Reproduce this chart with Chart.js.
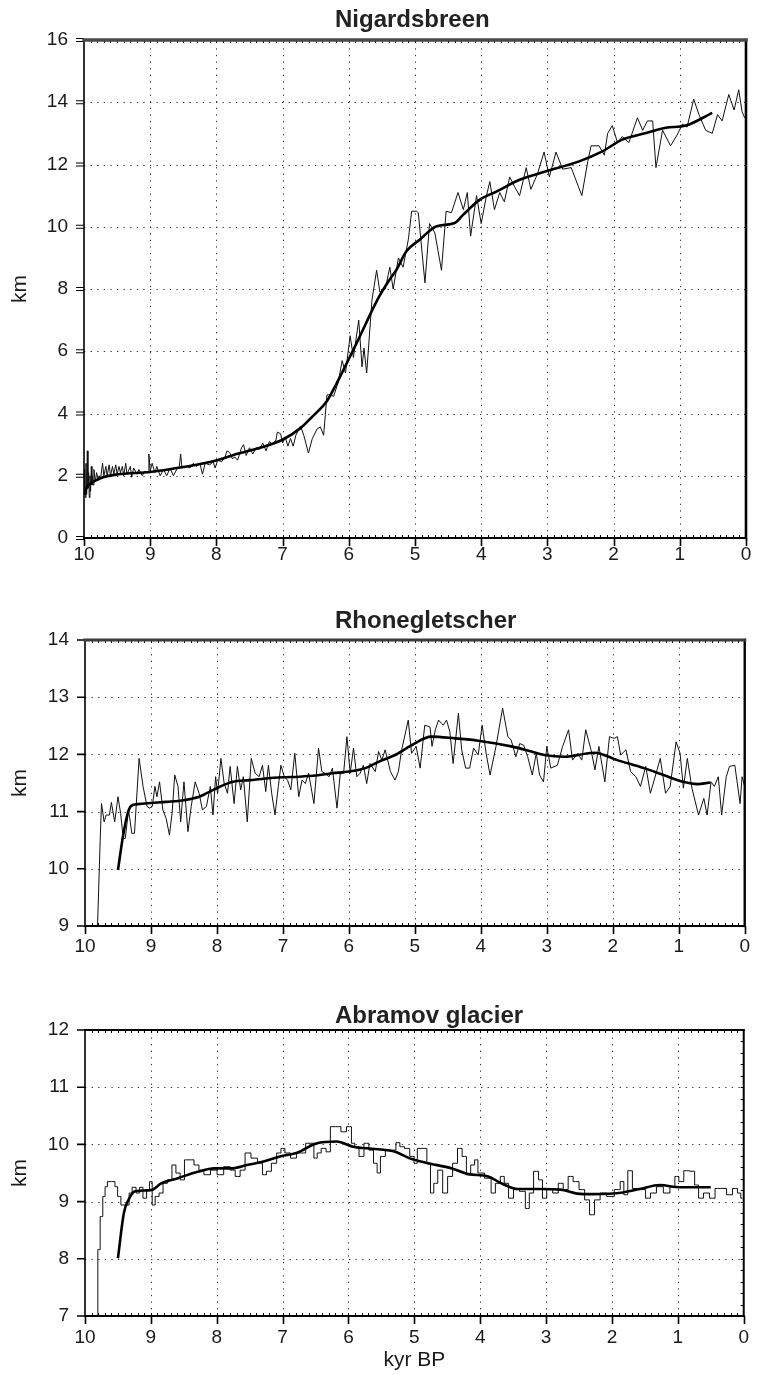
<!DOCTYPE html>
<html>
<head>
<meta charset="utf-8">
<script src="https://cdn.jsdelivr.net/npm/chart.js@4.4.1/dist/chart.umd.min.js"></script>
<style>
  html, body { margin: 0; padding: 0; background: #fff; }
  body { width: 759px; height: 1375px; position: relative; overflow: hidden; }
  canvas { position: absolute; left: 0; }
</style>
</head>
<body>
<canvas id="nigCanvas" width="759" height="590" style="top:0px"></canvas>
<canvas id="rhoCanvas" width="759" height="380" style="top:600px"></canvas>
<canvas id="abrCanvas" width="759" height="385" style="top:990px"></canvas>
<script>
// --- DATA (age in kyr BP, length in km) ---
const ageTicks = [10, 9, 8, 7, 6, 5, 4, 3, 2, 1, 0];
const nigKmTicks = [0, 2, 4, 6, 8, 10, 12, 14, 16];
const rhoKmTicks = [9, 10, 11, 12, 13, 14];
const abrKmTicks = [7, 8, 9, 10, 11, 12];

const nigardsRaw = [
  [10.0,1.5],[9.99,2.2],[9.98,1.3],[9.97,2.4],[9.96,1.4],[9.95,2.8],[9.94,1.6],[9.93,2.1],[9.92,1.3],[9.91,2.0],
  [9.90,1.5],[9.89,2.3],[9.88,1.7],[9.87,2.0],[9.86,1.7],[9.85,2.2],[9.83,1.8],[9.81,2.1],[9.79,1.9],[9.77,2.0],
  [9.75,1.9],[9.72,2.4],[9.70,2.0],[9.67,2.3],[9.65,2.0],[9.62,2.35],[9.60,2.0],[9.57,2.3],[9.55,2.05],[9.52,2.35],
  [9.50,2.05],[9.47,2.3],[9.45,2.1],[9.42,2.3],[9.40,2.0],[9.37,2.4],[9.35,2.05],[9.30,2.3],[9.28,1.95],[9.25,2.25],
  [9.20,2.05],[9.17,2.2],[9.12,2.0],[9.08,2.15],[9.03,2.1],[9.02,2.7],[9.00,2.15],[8.97,2.4],[8.93,2.1],[8.90,2.3],
  [8.85,2.0],[8.80,2.2],[8.75,2.0],[8.70,2.25],[8.65,2.0],[8.60,2.2],[8.56,2.3],[8.54,2.7],[8.52,2.25],[8.45,2.3],
  [8.40,2.25],[8.35,2.4],[8.30,2.3],[8.25,2.4],[8.21,2.05],[8.17,2.4],[8.10,2.35],[8.05,2.45],[8.02,2.25],[7.98,2.5],
  [7.92,2.45],[7.87,2.6],[7.84,2.8],[7.80,2.75],[7.76,2.55],[7.72,2.6],[7.68,2.5],[7.62,2.9],[7.59,3.0],[7.55,2.65],
  [7.50,2.9],[7.45,2.7],[7.40,2.9],[7.35,2.85],[7.30,3.05],[7.25,2.8],[7.20,3.1],[7.15,3.0],[7.10,3.15],[7.08,3.4],
  [7.03,3.35],[7.00,3.05],[6.96,3.25],[6.92,2.95],[6.88,3.2],[6.84,2.95],[6.80,3.3],[6.73,3.6],[6.68,3.3],[6.61,2.73],
  [6.55,3.2],[6.48,3.5],[6.43,3.57],[6.38,3.3],[6.33,4.6],[6.28,4.6],[6.23,4.55],[6.16,5.0],[6.10,5.7],[6.05,5.3],
  [5.98,6.5],[5.93,5.8],[5.85,7.0],[5.80,5.5],[5.77,6.1],[5.73,5.3],[5.65,7.65],[5.58,8.6],[5.53,7.9],[5.45,8.0],
  [5.38,8.7],[5.33,8.0],[5.25,9.0],[5.18,8.7],[5.10,9.6],[5.05,10.5],[4.98,10.5],[4.95,10.45],[4.85,8.2],[4.78,10.1],
  [4.70,9.8],[4.60,8.6],[4.53,10.5],[4.45,10.45],[4.35,11.1],[4.27,10.55],[4.21,11.1],[4.16,9.7],[4.07,11.0],[4.00,10.1],
  [3.92,11.0],[3.87,11.45],[3.80,10.55],[3.72,11.1],[3.65,10.8],[3.57,11.6],[3.50,11.3],[3.42,11.0],[3.32,11.9],[3.25,11.2],
  [3.15,11.7],[3.05,12.4],[2.97,11.6],[2.87,12.4],[2.77,11.85],[2.64,11.9],[2.48,11.0],[2.39,12.1],[2.34,12.6],[2.22,12.6],
  [2.14,12.3],[2.09,13.0],[2.02,13.25],[1.94,12.7],[1.87,12.9],[1.77,12.7],[1.64,13.5],[1.56,13.1],[1.49,13.4],[1.41,13.4],
  [1.36,11.9],[1.26,13.1],[1.14,12.6],[1.04,12.95],[0.96,13.3],[0.89,13.2],[0.79,14.1],[0.71,13.6],[0.61,13.1],[0.51,13.0],
  [0.43,13.6],[0.36,13.4],[0.26,14.25],[0.18,13.75],[0.11,14.4],[0.06,13.7],[0.02,13.5]
];
const nigardsSmooth = [
  [10.0,1.4],[9.95,1.65],[9.9,1.75],[9.74,1.93],[9.5,2.04],[9.0,2.12],[8.5,2.28],[7.99,2.5],[7.74,2.67],[7.23,2.97],
  [6.98,3.18],[6.73,3.53],[6.55,3.9],[6.33,4.4],[6.2,4.9],[6.03,5.62],[5.85,6.4],[5.68,7.17],[5.53,7.8],[5.4,8.25],
  [5.28,8.62],[5.13,9.21],[4.93,9.58],[4.68,10.01],[4.4,10.12],[4.27,10.39],[4.02,10.87],[3.77,11.13],[3.42,11.51],[3.02,11.78],
  [2.52,12.1],[2.17,12.42],[1.87,12.8],[1.51,13.01],[1.21,13.18],[0.91,13.25],[0.51,13.66]
];

const rhoneRaw = [
  [9.81,9.0],[9.77,10.5],[9.75,11.14],[9.71,10.82],[9.68,10.94],[9.63,10.94],[9.6,11.16],[9.55,10.82],[9.5,11.26],[9.46,10.97],
  [9.42,10.53],[9.39,10.53],[9.34,11.03],[9.29,10.62],[9.25,10.62],[9.18,11.93],[9.12,11.44],[9.06,11.09],[9.02,11.06],[8.98,11.09],
  [8.94,11.44],[8.91,11.26],[8.87,11.52],[8.82,11.03],[8.77,10.88],[8.72,10.59],[8.68,10.97],[8.64,11.64],[8.59,11.44],[8.55,10.82],
  [8.5,11.52],[8.44,10.65],[8.39,11.09],[8.33,11.52],[8.27,11.32],[8.22,11.03],[8.16,11.09],[8.1,11.44],[8.06,10.94],[8.02,11.61],
  [7.99,11.32],[7.94,11.93],[7.89,11.49],[7.84,11.32],[7.8,11.79],[7.74,11.14],[7.69,11.79],[7.64,11.38],[7.6,11.61],[7.54,10.82],
  [7.48,11.93],[7.42,11.67],[7.36,11.61],[7.31,11.81],[7.26,11.35],[7.22,11.81],[7.17,11.32],[7.12,10.94],[7.07,11.44],[7.03,11.81],
  [6.98,11.61],[6.93,11.55],[6.88,11.38],[6.82,12.02],[6.76,11.26],[6.71,11.55],[6.66,11.49],[6.61,11.67],[6.53,11.14],[6.46,12.11],
  [6.41,11.7],[6.36,11.67],[6.3,11.61],[6.25,11.76],[6.18,11.06],[6.13,11.67],[6.08,11.67],[6.03,12.31],[5.98,11.67],[5.93,12.11],
  [5.88,11.61],[5.83,11.67],[5.78,11.81],[5.73,11.49],[5.68,11.84],[5.6,11.7],[5.55,12.05],[5.5,11.9],[5.45,12.08],[5.37,11.7],
  [5.3,11.55],[5.25,11.7],[5.2,12.08],[5.1,12.6],[5.05,12.02],[4.98,12.14],[4.92,11.76],[4.85,12.51],[4.77,12.48],[4.74,12.14],
  [4.69,12.43],[4.64,12.6],[4.57,12.51],[4.52,12.6],[4.47,12.4],[4.42,11.84],[4.34,12.72],[4.29,12.08],[4.23,11.76],[4.17,11.76],
  [4.11,12.11],[4.04,11.99],[3.98,12.51],[3.92,12.02],[3.86,11.64],[3.77,12.14],[3.67,12.81],[3.59,12.31],[3.54,12.25],[3.47,11.96],
  [3.41,12.19],[3.35,12.16],[3.29,11.96],[3.22,11.64],[3.16,12.02],[3.11,11.64],[3.05,11.52],[3.0,12.14],[2.94,11.76],[2.84,11.81],
  [2.76,12.14],[2.67,12.43],[2.61,11.9],[2.53,12.02],[2.47,11.9],[2.41,12.43],[2.33,12.08],[2.27,11.73],[2.21,12.14],[2.12,11.52],
  [2.05,12.31],[1.98,12.28],[1.93,12.31],[1.88,11.99],[1.8,12.08],[1.73,11.7],[1.65,11.61],[1.58,11.44],[1.5,11.79],[1.43,11.32],
  [1.35,11.64],[1.28,11.93],[1.2,11.32],[1.13,11.44],[1.04,12.22],[0.98,12.02],[0.93,11.41],[0.87,11.93],[0.8,11.41],[0.7,10.94],
  [0.62,11.23],[0.57,10.94],[0.51,11.52],[0.46,11.44],[0.4,11.61],[0.35,10.94],[0.28,11.61],[0.23,11.79],[0.15,11.81],[0.07,11.14],
  [0.04,11.61],[0.0,11.44]
];
const rhoneSmooth = [
  [9.5,9.98],[9.42,10.6],[9.35,10.98],[9.3,11.1],[9.2,11.13],[9.0,11.15],[8.77,11.17],[8.5,11.2],[8.27,11.26],[8.02,11.4],
  [7.76,11.52],[7.5,11.55],[7.26,11.58],[7.0,11.6],[6.75,11.61],[6.5,11.63],[6.25,11.67],[6.0,11.7],[5.75,11.76],[5.55,11.87],
  [5.3,11.99],[5.05,12.16],[4.75,12.31],[4.39,12.28],[4.04,12.24],[3.54,12.14],[3.29,12.07],[3.04,11.99],[2.73,11.96],[2.28,12.03],
  [1.93,11.9],[1.53,11.76],[1.23,11.64],[0.93,11.52],[0.72,11.48],[0.52,11.51]
];

const abramovRaw = [
  [9.82,7.0],[9.79,8.16],[9.75,8.74],[9.71,9.09],[9.68,9.26],[9.64,9.35],[9.56,9.35],[9.53,9.26],[9.48,9.09],[9.43,8.94],
  [9.35,8.94],[9.31,9.15],[9.26,9.25],[9.19,9.15],[9.15,9.25],[9.09,9.06],[9.04,9.21],[9.0,9.35],[8.96,8.94],[8.91,9.09],
  [8.84,9.15],[8.79,9.32],[8.71,9.38],[8.65,9.64],[8.59,9.5],[8.52,9.38],[8.46,9.73],[8.38,9.73],[8.31,9.64],[8.23,9.55],
  [8.16,9.47],[8.03,9.55],[7.96,9.47],[7.83,9.61],[7.76,9.55],[7.68,9.44],[7.61,9.55],[7.53,9.85],[7.43,9.76],[7.33,9.67],
  [7.28,9.47],[7.21,9.53],[7.13,9.67],[7.05,9.85],[7.0,9.93],[6.93,9.85],[6.83,9.76],[6.75,9.85],[6.68,9.85],[6.62,10.02],
  [6.55,10.02],[6.5,9.76],[6.45,9.85],[6.38,9.93],[6.3,9.87],[6.25,10.31],[6.15,10.31],[6.08,10.22],[5.98,10.31],[5.93,10.02],
  [5.88,9.96],[5.8,9.79],[5.73,10.02],[5.65,9.9],[5.59,9.67],[5.54,9.5],[5.49,9.79],[5.39,9.9],[5.31,9.9],[5.25,10.03],
  [5.19,9.96],[5.11,9.93],[5.03,9.79],[4.98,9.67],[4.93,9.93],[4.84,9.93],[4.78,9.67],[4.73,9.15],[4.68,9.32],[4.61,9.55],
  [4.53,9.15],[4.46,9.44],[4.38,9.67],[4.31,9.93],[4.24,9.79],[4.18,9.47],[4.11,9.64],[4.06,9.73],[4.01,9.5],[3.86,9.41],
  [3.81,9.15],[3.73,9.32],[3.66,9.44],[3.61,9.32],[3.53,9.06],[3.46,9.21],[3.35,9.18],[3.28,8.88],[3.23,9.15],[3.15,9.53],
  [3.08,9.38],[3.03,9.06],[2.95,9.21],[2.85,9.15],[2.78,9.32],[2.7,9.21],[2.63,9.44],[2.55,9.35],[2.45,9.21],[2.38,9.03],
  [2.3,8.77],[2.23,9.03],[2.13,9.15],[2.03,9.09],[1.9,9.21],[1.85,9.35],[1.79,9.12],[1.73,9.54],[1.65,9.23],[1.53,9.21],
  [1.45,9.06],[1.38,9.15],[1.27,9.26],[1.17,9.15],[1.07,9.26],[1.02,9.44],[0.95,9.35],[0.87,9.54],[0.77,9.53],[0.72,9.29],
  [0.65,9.06],[0.57,9.15],[0.47,9.06],[0.4,9.23],[0.3,9.23],[0.22,9.12],[0.12,9.23],[0.07,9.15],[0.02,9.06]
];
const abramovSmooth = [
  [9.5,8.01],[9.41,8.8],[9.34,9.03],[9.24,9.18],[9.0,9.2],[8.84,9.32],[8.59,9.41],[8.29,9.52],[8.04,9.58],[7.79,9.58],
  [7.54,9.64],[7.29,9.7],[7.04,9.79],[6.79,9.85],[6.48,10.02],[6.18,10.05],[5.93,9.96],[5.59,9.92],[5.29,9.87],[5.08,9.76],
  [4.83,9.68],[4.43,9.58],[4.18,9.48],[3.88,9.44],[3.68,9.32],[3.43,9.22],[3.08,9.22],[2.78,9.21],[2.53,9.14],[2.28,9.13],
  [1.83,9.16],[1.58,9.22],[1.27,9.29],[0.97,9.25],[0.5,9.25]
];

const FONT = '"Liberation Sans", Arial, Helvetica, sans-serif';
const INK = '#1a1a1a';

// grid, frame, ticks and panel title
const framePlugin = {
  id: 'frame',
  beforeDatasetsDraw(chart, args, o) {
    const { ctx, chartArea: a, scales: { x, y } } = chart;
    ctx.save();
    ctx.strokeStyle = '#333';
    ctx.lineWidth = 1;
    ctx.setLineDash([1.3, 5.3]);
    ctx.beginPath();
    x.ticks.forEach(t => {
      if (t.value <= x.min || t.value >= x.max) return;
      const px = Math.round(x.getPixelForValue(t.value)) + 0.5;
      ctx.moveTo(px, a.bottom);
      ctx.lineTo(px, a.top);
    });
    y.ticks.forEach(t => {
      if (t.value <= y.min || t.value >= y.max) return;
      const py = Math.round(y.getPixelForValue(t.value)) + 0.5;
      ctx.moveTo(a.left, py);
      ctx.lineTo(a.right, py);
    });
    ctx.stroke();
    ctx.restore();
  },
  afterDatasetsDraw(chart, args, o) {
    const { ctx, chartArea: a, scales: { x, y } } = chart;
    ctx.save();
    ctx.strokeStyle = '#000';

    // minor ticks every 0.1 kyr on top and bottom edges
    ctx.lineWidth = 1;
    ctx.beginPath();
    for (let k = 1; k < 100; k++) {
      const px = Math.round(x.getPixelForValue(k / 10)) + 0.5;
      ctx.moveTo(px, a.bottom); ctx.lineTo(px, a.bottom - 3);
      ctx.moveTo(px, a.top); ctx.lineTo(px, a.top + 3);
    }
    if (o.rightMinor) {
      for (let v = y.min + 0.2; v < y.max; v += 0.2) {
        const py = Math.round(y.getPixelForValue(v)) + 0.5;
        ctx.moveTo(a.right, py); ctx.lineTo(a.right - 3, py);
      }
    }
    ctx.stroke();

    // major ticks, outside the frame
    ctx.lineWidth = 1.6;
    ctx.beginPath();
    x.ticks.forEach(t => {
      const px = Math.round(x.getPixelForValue(t.value)) + 0.5;
      ctx.moveTo(px, a.bottom); ctx.lineTo(px, a.bottom + 8);
    });
    ctx.stroke();
    ctx.lineWidth = o.doubleTicks ? 1 : 1.6;
    ctx.beginPath();
    y.ticks.forEach(t => {
      const py = y.getPixelForValue(t.value);
      if (o.doubleTicks) {
        ctx.moveTo(a.left - 8, py - 1.5); ctx.lineTo(a.left, py - 1.5);
        ctx.moveTo(a.left - 8, py + 1.5); ctx.lineTo(a.left, py + 1.5);
      } else {
        ctx.moveTo(a.left - 8, py); ctx.lineTo(a.left, py);
      }
    });
    ctx.stroke();

    // frame
    ctx.lineCap = 'square';
    ctx.strokeStyle = '#000';
    ctx.lineWidth = 1.6;
    ctx.beginPath(); ctx.moveTo(a.left, a.top); ctx.lineTo(a.left, a.bottom); ctx.stroke();
    ctx.lineWidth = 2;
    ctx.beginPath(); ctx.moveTo(a.left, a.bottom); ctx.lineTo(a.right, a.bottom); ctx.stroke();
    ctx.lineWidth = o.rightWidth;
    ctx.beginPath(); ctx.moveTo(a.right, a.top); ctx.lineTo(a.right, a.bottom); ctx.stroke();
    ctx.strokeStyle = o.topColor;
    ctx.lineWidth = o.topWidth;
    ctx.beginPath(); ctx.moveTo(a.left, a.top); ctx.lineTo(a.right, a.top); ctx.stroke();

    // panel title
    ctx.fillStyle = '#222';
    ctx.font = 'bold 24px ' + FONT;
    ctx.textAlign = 'left';
    ctx.textBaseline = 'alphabetic';
    ctx.fillText(o.title, 335, a.top - o.titleGap);
    ctx.restore();
  }
};

function toPoints(pairs) {
  return pairs.map(p => ({ x: p[0], y: p[1] }));
}

function makePanel(id, p) {
  return new Chart(document.getElementById(id), {
    type: 'line',
    data: {
      datasets: [
        {
          data: toPoints(p.smooth),
          borderColor: '#000',
          borderWidth: 2.6,
          pointRadius: 0,
          cubicInterpolationMode: 'monotone',
          fill: false
        },
        {
          data: toPoints(p.raw),
          borderColor: '#111',
          borderWidth: 1,
          pointRadius: 0,
          tension: 0,
          stepped: p.stepped || false,
          fill: false
        }
      ]
    },
    options: {
      responsive: false,
      animation: false,
      events: [],
      layout: { padding: { top: 40, left: 0, right: p.padRight, bottom: 0 } },
      scales: {
        x: {
          type: 'linear',
          reverse: true,
          min: 0,
          max: 10,
          afterBuildTicks: s => { s.ticks = ageTicks.map(v => ({ value: v })); },
          ticks: { padding: p.xPad, color: INK, font: { family: FONT, size: 19 }, maxRotation: 0, autoSkip: false },
          grid: { display: false, drawTicks: false },
          border: { display: false },
          title: {
            display: !!p.xTitle,
            text: p.xTitle || '',
            color: INK,
            font: { family: FONT, size: 21 },
            padding: { top: 0, bottom: 2 }
          },
          afterFit: s => { s.height = p.xHeight; }
        },
        y: {
          type: 'linear',
          min: p.yTicks[0],
          max: p.yTicks[p.yTicks.length - 1],
          afterBuildTicks: s => { s.ticks = p.yTicks.map(v => ({ value: v })); },
          ticks: { padding: 16, color: INK, font: { family: FONT, size: 19 } },
          grid: { display: false, drawTicks: false },
          border: { display: false },
          title: {
            display: true,
            text: 'km',
            color: INK,
            font: { family: FONT, size: 21 },
            padding: { top: 8, bottom: 0 }
          },
          afterFit: s => { s.width = p.left; }
        }
      },
      plugins: {
        legend: { display: false },
        tooltip: { enabled: false },
        frame: p.frame
      }
    },
    plugins: [framePlugin]
  });
}

makePanel('nigCanvas', {
  raw: nigardsRaw, smooth: nigardsSmooth, yTicks: nigKmTicks,
  left: 84, padRight: 13, xHeight: 52, xPad: 5,
  frame: { title: 'Nigardsbreen', titleGap: 13, topWidth: 3.5, topColor: '#4a4a4a', rightWidth: 2.6, doubleTicks: true }
});
makePanel('rhoCanvas', {
  raw: rhoneRaw, smooth: rhoneSmooth, yTicks: rhoKmTicks,
  left: 85, padRight: 11, xHeight: 54, xPad: 9,
  frame: { title: 'Rhonegletscher', titleGap: 12, topWidth: 3.2, topColor: '#3c3c3c', rightWidth: 2.4 }
});
makePanel('abrCanvas', {
  raw: abramovRaw, smooth: abramovSmooth, yTicks: abrKmTicks, stepped: 'middle',
  left: 85, padRight: 9, xHeight: 59, xPad: 10, xTitle: 'kyr BP',
  frame: { title: 'Abramov glacier', titleGap: 7, topWidth: 1.8, topColor: '#000', rightWidth: 2, rightMinor: true }
});
</script>
</body>
</html>
